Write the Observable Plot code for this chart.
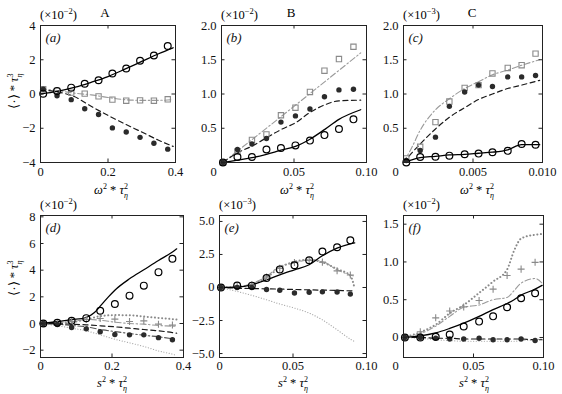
<!DOCTYPE html>
<html><head><meta charset="utf-8">
<script src="https://cdn.jsdelivr.net/npm/d3@7"></script>
<script src="https://cdn.jsdelivr.net/npm/@observablehq/plot@0.6"></script>
<style>
html,body{margin:0;padding:0;background:#fff;}
#wrap{position:relative;width:562px;height:394px;overflow:hidden;background:#fff;}
.panel{position:absolute;}
.panel svg{display:block;}
#overlay{position:absolute;left:0;top:0;}
</style></head><body><div id="wrap"></div>
<script>
// ---------- Panel (a) ----------
const aX = [0.008, 0.049, 0.091, 0.131, 0.172, 0.213, 0.254, 0.295, 0.336, 0.377];
const aCircle = [0.02, 0.18, 0.37, 0.6, 0.8, 1.2, 1.49, 1.94, 2.25, 2.8];
const aSquare = [0.28, 0.18, 0.08, 0.02, -0.14, -0.33, -0.39, -0.37, -0.39, -0.31];
const aDot = [0.28, -0.1, -0.33, -0.86, -1.2, -1.98, -2.22, -2.53, -2.88, -3.22];
const aLineX = [0, 0.05, 0.1, 0.15, 0.2, 0.25, 0.3, 0.35, 0.393];
const aSolid = [0, 0.15, 0.38, 0.68, 1.02, 1.45, 1.9, 2.35, 2.7];
const aDashed = [0.25, 0.12, -0.15, -0.72, -1.25, -1.75, -2.22, -2.7, -3.06];
const aDashDot = [0.3, 0.2, 0.05, -0.05, -0.2, -0.33, -0.37, -0.37, -0.33];
const aXt = [0, 0.2, 0.4], aXl = ["0", "0.2", "0.4"];
const aYt = [-4, -2, 0, 2, 4], aYl = ["\u22124", "\u22122", "0", "2", "4"];

// ---------- Panel (b) ----------
const bX = [0.001, 0.011, 0.021, 0.031, 0.041, 0.051, 0.061, 0.071, 0.081, 0.091];
const bCircle = [0, 0.08, 0.08, 0.19, 0.21, 0.25, 0.32, 0.40, 0.49, 0.63];
const bSquare = [0, 0.16, 0.33, 0.41, 0.69, 0.80, 1.03, 1.34, 1.51, 1.69];
const bDot = [0, 0.19, 0.27, 0.35, 0.59, 0.68, 0.78, 0.96, 1.06, 1.07];
const bLineX = [0.001, 0.011, 0.021, 0.031, 0.041, 0.051, 0.061, 0.071, 0.081, 0.096];
const bSolid = [0, 0.035, 0.07, 0.12, 0.18, 0.235, 0.34, 0.48, 0.63, 0.77];
const bDashed = [0, 0.14, 0.24, 0.36, 0.48, 0.58, 0.73, 0.84, 0.90, 0.91];
const bDashX = [0.001, 0.05, 0.096];
const bDashDot = [0, 0.82, 1.6];
const bXt = [0, 0.05, 0.1], bXl = ["0", "0.05", "0.10"];
const bYt = [0.5, 1, 1.5, 2], bYl = ["0.5", "1.0", "1.5", "2.0"];

// ---------- Panel (c) ----------
const cX = [0.0002, 0.0012, 0.0023, 0.0033, 0.0044, 0.0054, 0.0064, 0.0075, 0.0085, 0.0095];
const cCircle = [0, 0.08, 0.085, 0.10, 0.12, 0.13, 0.15, 0.17, 0.27, 0.26];
const cSquare = [0.06, 0.23, 0.59, 0.89, 1.09, 1.13, 1.30, 1.38, 1.42, 1.59];
const cDot = [0.03, 0.175, 0.37, 0.82, 1.03, 1.13, 1.11, 1.25, 1.25, 1.27];
const cLineX = [0, 0.0006, 0.0012, 0.0023, 0.0033, 0.0044, 0.0054, 0.0064, 0.0075, 0.0085, 0.0098];
const cSolid = [0, 0.04, 0.07, 0.09, 0.11, 0.12, 0.135, 0.15, 0.185, 0.26, 0.26];
const cDashed = [0, 0.14, 0.27, 0.49, 0.66, 0.80, 0.92, 1.00, 1.08, 1.13, 1.20];
const cDashDot = [0, 0.22, 0.47, 0.77, 0.93, 1.08, 1.18, 1.28, 1.35, 1.42, 1.50];
const cXt = [0, 0.005, 0.01], cXl = ["0", "0.005", "0.010"];
const cYt = [0.5, 1, 1.5, 2], cYl = ["0.5", "1.0", "1.5", "2.0"];

// ---------- Panel (d) ----------
const dX = [0.008, 0.047, 0.087, 0.128, 0.167, 0.208, 0.249, 0.289, 0.330, 0.369];
const dCircle = [0, 0.05, 0.2, 0.4, 0.96, 1.46, 2.09, 2.84, 3.85, 4.86];
const dPlus = [0, 0.05, 0.15, 0.3, 0.38, 0.33, 0.15, 0.2, -0.05, -0.12];
const dDot = [0, -0.07, -0.3, -0.4, -0.62, -0.82, -0.85, -0.85, -1.06, -1.22];
const dSolidX = [0, 0.047, 0.087, 0.128, 0.15, 0.167, 0.19, 0.208, 0.249, 0.289, 0.33, 0.369, 0.381];
const dSolid = [0, 0.13, 0.28, 0.45, 0.8, 1.3, 2.0, 2.5, 3.35, 4.03, 4.73, 5.36, 5.6];
const dLineX = [0, 0.047, 0.087, 0.128, 0.167, 0.208, 0.249, 0.289, 0.33, 0.369, 0.381];
const dDotUp = [0, 0.02, 0.1, 0.3, 0.55, 0.63, 0.62, 0.52, 0.42, 0.33, 0.3];
const dDashGrey = [0, 0.05, 0.15, 0.3, 0.25, 0.1, 0.0, -0.05, -0.15, -0.2, -0.22];
const dDashed = [0, -0.02, -0.05, -0.1, -0.17, -0.25, -0.35, -0.45, -0.55, -0.68, -0.73];
const dDashDot = [0, -0.05, -0.15, -0.25, -0.45, -0.6, -0.75, -0.88, -1.0, -1.15, -1.2];
const dDotLow = [0, -0.17, -0.35, -0.55, -0.85, -1.18, -1.45, -1.72, -2.06, -2.3, -2.4];
const dXt = [0, 0.2, 0.4], dXl = ["0", "0.2", "0.4"];
const dYt = [-2, 0, 2, 4, 6, 8], dYl = ["\u22122", "0", "2", "4", "6", "8"];

// ---------- Panel (e) ----------
const eX = [0.001, 0.012, 0.022, 0.032, 0.041, 0.051, 0.061, 0.070, 0.080, 0.089];
const eCircle = [0, 0.15, 0.14, 0.71, 1.37, 1.68, 2.06, 2.73, 3.05, 3.58];
const ePlus = [0, 0.1, 0.2, 0.8, 1.45, 1.9, 2.05, 1.92, 1.26, 0.95];
const eDot = [0, 0, 0, -0.15, -0.21, -0.42, -0.36, -0.33, -0.34, -0.5];
const eLineX = [0, 0.012, 0.022, 0.032, 0.041, 0.051, 0.061, 0.070, 0.080, 0.089, 0.092];
const eSolid = [0, 0.03, 0.2, 0.58, 0.96, 1.34, 1.72, 2.4, 2.98, 3.3, 3.38];
const eDashGrey = [0, 0.05, 0.3, 0.83, 1.6, 1.85, 2.1, 1.97, 1.34, 0.95, 0.85];
const eDotUp = [0, 0.05, 0.25, 0.75, 1.5, 1.95, 2.1, 1.9, 1.4, 0.9, -0.1];
const eDashed = [0, -0.05, -0.08, -0.1, -0.12, -0.15, -0.18, -0.2, -0.22, -0.25, -0.25];
const eDotLow = [0, -0.3, -0.6, -0.93, -1.25, -1.56, -1.94, -2.45, -3.2, -3.91, -4.1];
const eXt = [0, 0.05, 0.1], eXl = ["0", "0.05", "0.10"];
const eYt = [-5, -2.5, 0, 2.5, 5], eYl = ["\u22125.0", "\u22122.5", "0", "2.5", "5.0"];

// ---------- Panel (f) ----------
const fX = [0.001, 0.012, 0.023, 0.033, 0.043, 0.054, 0.064, 0.074, 0.084, 0.094];
const fCircle = [0, 0, 0.01, 0.04, 0.146, 0.21, 0.28, 0.40, 0.52, 0.585];
const fPlus = [0, 0.075, 0.26, 0.35, 0.405, 0.49, 0.64, 0.82, 0.905, 0.995];
const fDot = [0, 0, -0.01, -0.02, -0.02, -0.01, -0.03, -0.03, -0.02, -0.04];
const fLineX = [0, 0.012, 0.023, 0.033, 0.043, 0.054, 0.064, 0.074, 0.079, 0.084, 0.094, 0.099];
const fSolid = [0, 0.02, 0.06, 0.12, 0.19, 0.28, 0.37, 0.45, 0.5, 0.56, 0.64, 0.69];
const fDotUp = [0, 0.07, 0.17, 0.32, 0.43, 0.59, 0.74, 0.9, 1.15, 1.31, 1.36, 1.37];
const fDashGrey = [0, 0.05, 0.15, 0.28, 0.40, 0.43, 0.5, 0.53, 0.62, 0.72, 0.78, 0.72];
const fDashed = [0, 0, -0.01, -0.01, -0.02, -0.02, -0.02, -0.02, -0.02, -0.02, -0.03, -0.03];
const fDotLow = [0, -0.01, -0.03, -0.04, -0.05, -0.05, -0.05, -0.05, -0.05, -0.04, -0.03, -0.02];
const fXt = [0, 0.05, 0.1], fXl = ["0", "0.05", "0.10"];
const fYt = [0, 0.5, 1, 1.5], fYl = ["0", "0.5", "1.0", "1.5"];

// ---------- styles ----------
const S = {
  solid: {stroke: "#000", strokeWidth: 1.3},
  dashed: {stroke: "#1a1a1a", strokeWidth: 1.2, strokeDasharray: "5,3.5"},
  greyDashDot: {stroke: "#9a9a9a", strokeWidth: 1.1, strokeDasharray: "6,2.5,1.5,2.5"},
  darkDashDot: {stroke: "#555", strokeWidth: 1.1, strokeDasharray: "6,2.5,1.5,2.5"},
  dotUp: {stroke: "#8a8a8a", strokeWidth: 2, strokeDasharray: "0.1,3.5", strokeLinecap: "round"},
  dotLow: {stroke: "#a8a8a8", strokeWidth: 1.2, strokeDasharray: "0.1,2.6", strokeLinecap: "round"}
};
const M = {
  circle: {r: 3.4, stroke: "#000", strokeWidth: 1.2, fill: "none"},
  dot: {r: 2.7, fill: "#2b2b2b", stroke: "none"},
  square: {symbol: "square", r: 3.0, stroke: "#8a8a8a", strokeWidth: 1.1, fill: "none"},
  plus: {symbol: "plus", r: 2.4, stroke: "#8a8a8a", strokeWidth: 1.1, fill: "none"}
};
const pts = (xs, ys) => xs.map((x, i) => ({x, y: ys[i]}));

const panels = [
  {tag: "(a)", box: [0, 0, 185, 200], frame: [40, 175, 25, 162], xd: [0, 0.4], yd: [-4, 4], zeroDx: 0,
   xt: aXt, xl: aXl, yt: aYt, yl: aYl,
   lines: [[aLineX, aDashDot, "greyDashDot"], [aLineX, aDashed, "dashed"], [aLineX, aSolid, "solid"]],
   marks: [[aX, aSquare, "square"], [aX, aDot, "dot"], [aX, aCircle, "circle"]]},
  {tag: "(b)", box: [185, 0, 190, 200], frame: [221, 366, 25, 162], xd: [0, 0.1], yd: [0, 2], zeroDx: -8,
   xt: bXt, xl: bXl, yt: bYt, yl: bYl,
   lines: [[bDashX, bDashDot, "greyDashDot"], [bLineX, bDashed, "dashed"], [bLineX, bSolid, "solid"]],
   marks: [[bX, bSquare, "square"], [bX, bDot, "dot"], [bX, bCircle, "circle"]]},
  {tag: "(c)", box: [375, 0, 187, 200], frame: [403, 542, 25, 162], xd: [0, 0.01], yd: [0, 2], zeroDx: -8,
   xt: cXt, xl: cXl, yt: cYt, yl: cYl,
   lines: [[cLineX, cDashDot, "greyDashDot"], [cLineX, cDashed, "dashed"], [cLineX, cSolid, "solid"]],
   marks: [[cX, cSquare, "square"], [cX, cDot, "dot"], [cX, cCircle, "circle"]]},
  {tag: "(d)", box: [0, 190, 190, 204], frame: [40, 183, 215, 357], xd: [0, 0.4], yd: [-2.55, 8.1], zeroDx: 0,
   xt: dXt, xl: dXl, yt: dYt, yl: dYl,
   lines: [[dLineX, dDotLow, "dotLow"], [dLineX, dDotUp, "dotUp"], [dLineX, dDashGrey, "greyDashDot"],
           [dLineX, dDashDot, "darkDashDot"], [dLineX, dDashed, "dashed"], [dSolidX, dSolid, "solid"]],
   marks: [[dX, dPlus, "plus"], [dX, dDot, "dot"], [dX, dCircle, "circle"]]},
  {tag: "(e)", box: [190, 190, 185, 204], frame: [219, 366, 215, 357], xd: [0, 0.1], yd: [-5.3, 5.45], zeroDx: 0,
   xt: eXt, xl: eXl, yt: eYt, yl: eYl,
   lines: [[eLineX, eDotLow, "dotLow"], [eLineX, eDotUp, "dotUp"], [eLineX, eDashGrey, "greyDashDot"],
           [eLineX, eDashed, "dashed"], [eLineX, eSolid, "solid"]],
   marks: [[eX, ePlus, "plus"], [eX, eDot, "dot"], [eX, eCircle, "circle"]]},
  {tag: "(f)", box: [375, 190, 187, 204], frame: [403, 543, 215, 357], xd: [0, 0.1], yd: [-0.265, 1.615], zeroDx: -8,
   xt: fXt, xl: fXl, yt: fYt, yl: fYl,
   lines: [[fLineX, fDotLow, "dotLow"], [fLineX, fDotUp, "dotUp"], [fLineX, fDashGrey, "greyDashDot"],
           [fLineX, fDashed, "dashed"], [fLineX, fSolid, "solid"]],
   marks: [[fX, fPlus, "plus"], [fX, fDot, "dot"], [fX, fCircle, "circle"]]}
];

const wrap = document.getElementById("wrap");
const FONT = "'Liberation Serif', 'Times New Roman', serif";

for (const p of panels) {
  const [L, T, W, H] = p.box;
  const [x0, x1, y0, y1] = p.frame;
  const iw = x1 - x0, ih = y1 - y0;
  const xMap = new Map(p.xt.map((v, i) => [v, p.xl[i]]));
  const yMap = new Map(p.yt.map((v, i) => [v, p.yl[i]]));
  const pad = T === 0 ? 5 : 4;
  const chart = Plot.plot({
    width: W, height: H,
    marginLeft: x0 - L, marginRight: L + W - x1,
    marginTop: y0 - T, marginBottom: T + H - y1,
    style: {fontFamily: FONT, fontSize: "12.5px", background: "transparent", overflow: "visible", color: "#111"},
    x: {domain: p.xd},
    y: {domain: p.yd},
    marks: [
      ...p.lines.map(([xs, ys, st]) => Plot.line(pts(xs, ys), {x: "x", y: "y", curve: "monotone-x", ...S[st]})),
      ...p.marks.map(([xs, ys, mk]) => Plot.dot(pts(xs, ys), {x: "x", y: "y", ...M[mk]})),
      Plot.frame({stroke: "#222", strokeWidth: 1}),
      Plot.ruleX(p.xt, {x: d => d, insetTop: ih - 3.5, stroke: "#222"}),
      Plot.ruleX(p.xt, {x: d => d, insetBottom: ih - 3.5, stroke: "#222"}),
      Plot.ruleY(p.yt, {y: d => d, insetRight: iw - 3.5, stroke: "#222"}),
      Plot.ruleY(p.yt, {y: d => d, insetLeft: iw - 3.5, stroke: "#222"}),
      Plot.axisX({ticks: p.xt.filter(v => v !== 0), tickSize: 0, tickPadding: pad, tickFormat: d => xMap.get(d), label: null, anchor: "bottom", fontSize: 12.5}),
      Plot.axisX({ticks: [0], tickSize: 0, tickPadding: pad, dx: p.zeroDx, tickFormat: d => xMap.get(d), label: null, anchor: "bottom", fontSize: 12.5}),
      Plot.axisY({ticks: p.yt, tickSize: 0, tickPadding: 5, tickFormat: d => yMap.get(d), label: null, anchor: "left", fontSize: 12.5}),
      Plot.text([p.tag], {frameAnchor: "top-left", dx: 5, dy: 12.5, text: d => d, fontStyle: "italic", fontSize: 13, textAnchor: "start", lineAnchor: "middle"})
    ]
  });
  const div = document.createElement("div");
  div.className = "panel";
  div.style.left = L + "px";
  div.style.top = T + "px";
  div.appendChild(chart);
  wrap.appendChild(div);
}

// ---------- overlay text ----------
const ov = d3.select(wrap).append("svg").attr("id", "overlay").attr("width", 562).attr("height", 394)
  .style("font-family", FONT).style("font-size", "13px").style("white-space", "pre");

const titles = [["A", 105], ["B", 291], ["C", 472]];
for (const [t, x] of titles) ov.append("text").attr("x", x).attr("y", 17).attr("text-anchor", "middle").text(t);

const expo = [[40, 19, "\u22122"], [221, 19, "\u22122"], [403, 19, "\u22123"], [40, 209, "\u22122"], [219, 209, "\u22123"], [403, 209, "\u22122"]];
for (const [x, y, e] of expo) {
  const t = ov.append("text").attr("x", x).attr("y", y).attr("font-size", 12.5);
  t.append("tspan").text("(\u00d710");
  t.append("tspan").attr("font-size", 8.5).attr("dy", -5).text(e);
  t.append("tspan").attr("dy", 5).text(")");
}

function xLabel(x, y, v) {
  const t = ov.append("text").attr("x", x).attr("y", y).attr("text-anchor", "middle").attr("font-size", 12.5);
  t.append("tspan").attr("font-style", "italic").text(v);
  t.append("tspan").attr("font-size", 8).attr("dy", -5).text("2");
  t.append("tspan").attr("dy", 5).text(" * ");
  t.append("tspan").attr("font-style", "italic").text("\u03c4");
  t.append("tspan").attr("font-size", 8).attr("dy", -5).text("2");
  t.append("tspan").attr("font-size", 8).attr("font-style", "italic").attr("dx", -4).attr("dy", 9).text("\u03b7");
}
xLabel(111, 194, "\u03c9"); xLabel(297, 194, "\u03c9"); xLabel(477, 194, "\u03c9");
xLabel(112, 387, "s"); xLabel(293, 387, "s"); xLabel(474, 387, "s");

function yLabel(x, y) {
  const t = ov.append("text").attr("transform", `translate(${x},${y}) rotate(-90)`).attr("text-anchor", "middle").attr("font-size", 12.5);
  t.append("tspan").text("\u27e8\u00b7\u27e9 * ");
  t.append("tspan").attr("font-style", "italic").text("\u03c4");
  t.append("tspan").attr("font-size", 8).attr("dy", -5).text("3");
  t.append("tspan").attr("font-size", 8).attr("font-style", "italic").attr("dx", -4).attr("dy", 9).text("\u03b7");
}
yLabel(18, 91); yLabel(18, 278);
</script></body></html>
